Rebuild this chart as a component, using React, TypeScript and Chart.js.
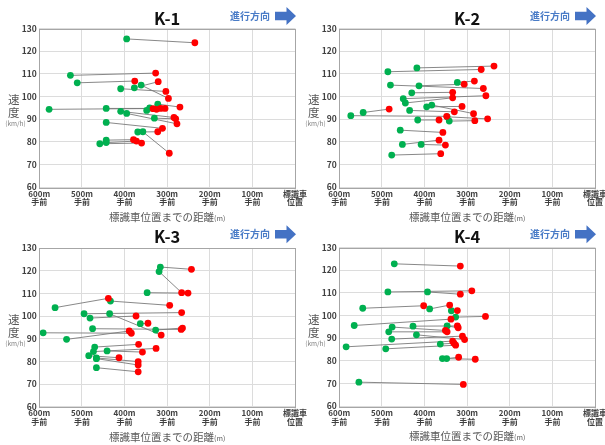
import React, { useEffect, useRef } from "react";
import { Chart, registerables } from "chart.js";
Chart.register(...registerables);

// ---- data: distance before sign vehicle (m) and speed (km/h) ----
const k1GreenDist = [395, 527, 511, 409, 377, 361, 577, 443, 322, 348, 341, 409, 395, 330, 443, 369, 357, 443, 443, 458];
const k1GreenSpeed = [125.4, 109.3, 106.0, 103.4, 103.8, 105.0, 94.3, 94.7, 96.6, 93.8, 94.9, 93.4, 92.5, 90.4, 88.5, 84.3, 84.4, 80.7, 79.6, 79.1];
const k1RedDist = [235, 327, 376, 303, 321, 297, 305, 315, 270, 333, 325, 284, 277, 280, 311, 322, 295, 379, 372, 360];
const k1RedSpeed = [123.7, 110.3, 106.8, 102.2, 106.5, 99.1, 94.7, 94.7, 95.3, 94.6, 94.3, 90.7, 87.9, 90.1, 85.9, 84.4, 74.9, 80.9, 80.3, 79.4];

const k2GreenDist = [486, 418, 480, 413, 323, 430, 450, 445, 383, 395, 435, 544, 573, 347, 416, 342, 457, 452, 408, 477];
const k2GreenSpeed = [110.9, 112.6, 105.0, 104.7, 106.2, 101.6, 99.0, 97.1, 96.2, 95.4, 93.8, 92.9, 91.5, 91.0, 89.6, 89.1, 85.1, 78.8, 78.8, 74.1];
const k2RedDist = [267, 237, 262, 307, 283, 334, 256, 334, 285, 312, 330, 483, 348, 252, 366, 282, 357, 366, 351, 362];
const k2RedSpeed = [111.9, 113.4, 103.5, 105.4, 106.8, 101.8, 100.3, 99.4, 92.4, 95.6, 93.2, 94.4, 91.2, 90.1, 89.6, 89.3, 84.1, 80.7, 78.5, 74.7];

const k3GreenDist = [316, 319, 347, 563, 433, 495, 481, 435, 363, 327, 475, 591, 536, 470, 473, 441, 484, 466, 466, 466];
const k3GreenSpeed = [121.6, 119.6, 110.3, 103.7, 106.6, 101.0, 99.1, 101.0, 96.6, 93.8, 94.4, 92.6, 89.7, 86.3, 84.3, 84.6, 82.5, 81.5, 81.2, 77.2];
const k3RedDist = [243, 266, 251, 438, 294, 266, 373, 314, 345, 264, 267, 384, 389, 367, 326, 358, 413, 368, 368, 368];
const k3RedSpeed = [120.6, 110.3, 110.1, 107.8, 104.7, 101.5, 100.0, 91.6, 96.8, 94.7, 94.1, 92.4, 93.4, 87.5, 85.7, 84.1, 81.6, 79.9, 78.4, 75.4];

const k4GreenDist = [471, 486, 393, 545, 388, 337, 327, 565, 476, 427, 347, 484, 419, 477, 584, 491, 363, 358, 348, 554];
const k4GreenSpeed = [122.8, 110.4, 110.4, 103.2, 102.9, 102.1, 99.3, 95.6, 94.9, 95.3, 95.4, 92.8, 91.5, 89.6, 86.2, 85.3, 87.4, 81.0, 81.0, 70.6];
const k4RedDist = [316, 289, 316, 402, 341, 323, 257, 338, 351, 323, 321, 347, 306, 311, 334, 327, 331, 281, 320, 309];
const k4RedSpeed = [121.8, 110.9, 109.4, 104.3, 104.6, 102.2, 99.6, 98.4, 93.4, 95.4, 94.6, 92.8, 89.4, 90.9, 88.7, 86.9, 87.8, 80.7, 81.6, 69.6];

const xTickValues = [600, 500, 400, 300, 200, 100, 0];
const xTickLabels = [["600m", "手前"], ["500m", "手前"], ["400m", "手前"], ["300m", "手前"], ["200m", "手前"], ["100m", "手前"], ["標識車", "位置"]];
const panelTitles = ["K-1", "K-2", "K-3", "K-4"];
const directionText = "進行方向";
const yTitleChars = ["速", "度"];
const yUnit = "(km/h)";
const xTitleMain = "標識車位置までの距離";
const xTitleUnit = "(m)";

const FONT = '"Noto Sans CJK JP", "Noto Sans", sans-serif';
const W = 320;
const H = 225;
const PLOT_RIGHT = 295;

type PanelDef = {
  title: string;
  gd: number[]; gs: number[]; rd: number[]; rs: number[];
  left: number; top: number;
  chartTop: number; chartBottom: number; dy: number;
};

const panels: PanelDef[] = [
  { title: panelTitles[0], gd: k1GreenDist, gs: k1GreenSpeed, rd: k1RedDist, rs: k1RedSpeed, left: 0, top: 0, chartTop: 28.5, chartBottom: 187, dy: 0 },
  { title: panelTitles[1], gd: k2GreenDist, gs: k2GreenSpeed, rd: k2RedDist, rs: k2RedSpeed, left: 300, top: 0, chartTop: 28.5, chartBottom: 187, dy: 0 },
  { title: panelTitles[2], gd: k3GreenDist, gs: k3GreenSpeed, rd: k3RedDist, rs: k3RedSpeed, left: 0, top: 220, chartTop: 28, chartBottom: 186.7, dy: -1.8 },
  { title: panelTitles[3], gd: k4GreenDist, gs: k4GreenSpeed, rd: k4RedDist, rs: k4RedSpeed, left: 300, top: 220, chartTop: 27.5, chartBottom: 186.2, dy: -1.8 },
];

function makeDecor(p: PanelDef) {
  return {
    id: "decor",
    afterDraw(chart: any) {
      const ctx = chart.ctx as CanvasRenderingContext2D;
      const a = chart.chartArea;
      ctx.save();
      // plot border
      ctx.strokeStyle = "#a6a6a6";
      ctx.lineWidth = 1;
      ctx.strokeRect(Math.round(a.left) + 0.5, Math.round(a.top) + 0.5, Math.round(a.right - a.left), Math.round(a.bottom - a.top));
      const cx = (a.left + a.right) / 2;
      // title
      ctx.fillStyle = "#111111";
      ctx.font = `bold 16.5px ${FONT}`;
      ctx.textAlign = "center";
      ctx.textBaseline = "middle";
      ctx.fillText(p.title, cx, 18.3 + p.dy);
      // direction text + arrow
      ctx.fillStyle = "#4a7cc7";
      ctx.font = `bold 10px ${FONT}`;
      ctx.textAlign = "right";
      ctx.fillText(directionText, 270, 15.8 + p.dy);
      ctx.fillStyle = "#4472c4";
      const ay = 16 + p.dy;
      ctx.beginPath();
      ctx.moveTo(275, ay - 4.2);
      ctx.lineTo(286.5, ay - 4.2);
      ctx.lineTo(286.5, ay - 9);
      ctx.lineTo(296, ay);
      ctx.lineTo(286.5, ay + 9);
      ctx.lineTo(286.5, ay + 4.2);
      ctx.lineTo(275, ay + 4.2);
      ctx.closePath();
      ctx.fill();
      // y title
      ctx.fillStyle = "#595959";
      ctx.textAlign = "center";
      ctx.font = `11.5px ${FONT}`;
      ctx.fillText(yTitleChars[0], 13.7, 100);
      ctx.fillText(yTitleChars[1], 13.7, 113);
      ctx.font = `6.5px ${FONT}`;
      ctx.fillStyle = "#7f7f7f";
      ctx.fillText(yUnit, 15.5, 123.5);
      // x title
      ctx.fillStyle = "#595959";
      ctx.font = `10.5px ${FONT}`;
      const w1 = ctx.measureText(xTitleMain).width;
      ctx.font = `7px ${FONT}`;
      const w2 = ctx.measureText(xTitleUnit).width;
      const sx = cx - (w1 + w2) / 2;
      const by = p.chartBottom + 34;
      ctx.textAlign = "left";
      ctx.textBaseline = "alphabetic";
      ctx.font = `10.5px ${FONT}`;
      ctx.fillText(xTitleMain, sx, by);
      ctx.font = `7px ${FONT}`;
      ctx.fillText(xTitleUnit, sx + w1, by);
      ctx.restore();
    },
  };
}

function Panel({ p }: { p: PanelDef }) {
  const ref = useRef<HTMLCanvasElement>(null);
  useEffect(() => {
    const canvas = ref.current!;
    const green = p.gd.map((d, i) => ({ x: d, y: p.gs[i] }));
    const red = p.rd.map((d, i) => ({ x: d, y: p.rs[i] }));
    const links: any[] = [];
    p.gd.forEach((d, i) => {
      links.push({ x: d, y: p.gs[i] });
      links.push({ x: p.rd[i], y: p.rs[i] });
      links.push({ x: (d + p.rd[i]) / 2, y: null });
    });
    const tickFont = { size: 8, weight: "bold" as const, family: FONT, lineHeight: 1.1 };
    const chart = new Chart(canvas, {
      type: "scatter",
      data: {
        datasets: [
          { type: "scatter", data: red, backgroundColor: "#ff0000", borderColor: "#ff0000", borderWidth: 0, pointRadius: 3.4, order: 1 } as any,
          { type: "scatter", data: green, backgroundColor: "#00b050", borderColor: "#00b050", borderWidth: 0, pointRadius: 3.4, order: 2 } as any,
          { type: "line", data: links, borderColor: "#7a7a7a", borderWidth: 0.9, pointRadius: 0, spanGaps: false, fill: false, order: 3 } as any,
        ],
      },
      options: {
        responsive: false,
        animation: false,
        devicePixelRatio: 1,
        layout: { padding: { left: 0, top: p.chartTop, right: W - PLOT_RIGHT, bottom: 0 } },
        plugins: { legend: { display: false }, tooltip: { enabled: false }, title: { display: false } },
        scales: {
          x: {
            type: "linear",
            reverse: true,
            min: 0,
            max: 600,
            afterBuildTicks: (s: any) => {
              s.ticks = xTickValues.map((v) => ({ value: v }));
            },
            ticks: {
              autoSkip: false,
              maxRotation: 0,
              minRotation: 0,
              padding: 2.2,
              color: "#404040",
              font: tickFont,
              callback: (v: any) => {
                const i = xTickValues.indexOf(Number(v));
                return i >= 0 ? xTickLabels[i] : "";
              },
            },
            grid: { color: "#dcdcdc", drawTicks: false, lineWidth: 1 },
            border: { display: false },
            afterFit: (s: any) => {
              s.height = H - p.chartBottom;
              s.paddingLeft = 0;
              s.paddingRight = 0;
            },
          } as any,
          y: {
            min: 60,
            max: 130,
            ticks: { stepSize: 10, padding: 2.5, color: "#404040", font: { size: 8.5, weight: "bold", family: FONT } },
            grid: { color: "#dcdcdc", drawTicks: false, lineWidth: 1 },
            border: { display: false },
            afterFit: (s: any) => {
              s.width = 39.3;
              s.paddingTop = 0;
              s.paddingBottom = 0;
            },
          } as any,
        },
      },
      plugins: [makeDecor(p)],
    } as any);
    return () => chart.destroy();
  }, []);
  return (
    <canvas
      ref={ref}
      width={W}
      height={H}
      style={{ position: "absolute", left: p.left, top: p.top, width: W, height: H }}
    />
  );
}

export default function App() {
  return (
    <div style={{ position: "fixed", left: 0, top: 0, width: 605, height: 445, background: "#ffffff", overflow: "hidden" }}>
      {panels.map((p) => (
        <Panel key={p.title} p={p} />
      ))}
    </div>
  );
}
